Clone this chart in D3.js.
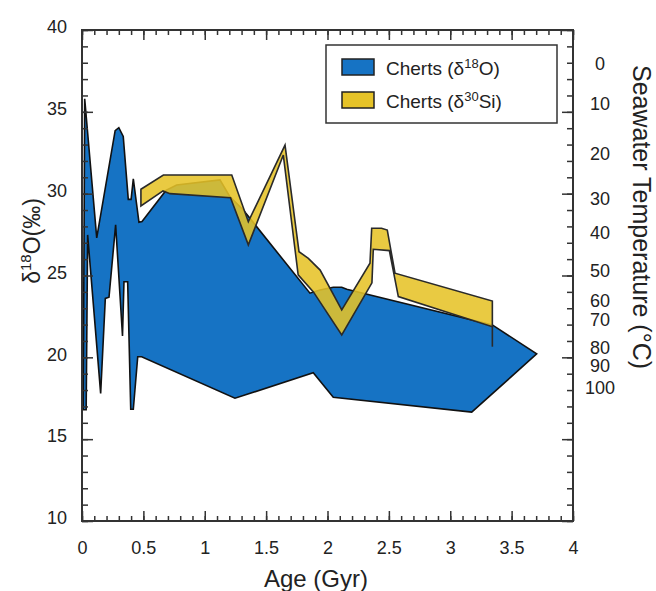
<!DOCTYPE html>
<html>
<head>
<meta charset="utf-8">
<script src="https://cdn.jsdelivr.net/npm/d3@7"></script>
<style>
  body { margin: 0; background: #fff; }
  svg { font-family: Arial, "Liberation Sans", Helvetica, sans-serif; }
</style>
</head>
<body>
<svg id="chart" width="656" height="591"></svg>
<script>
// axes
const ageTicks = [0, 0.5, 1, 1.5, 2, 2.5, 3, 3.5, 4];
const ageTickLabels = ["0", "0.5", "1", "1.5", "2", "2.5", "3", "3.5", "4"];
const d18oTicks = [10, 15, 20, 25, 30, 35, 40];
// seawater temperature labels and the d18O value they sit at
const tempLabels = ["0", "10", "20", "30", "40", "50", "60", "70", "80", "90", "100"];
const tempAtD18O = [37.96, 35.48, 32.43, 29.68, 27.6, 25.3, 23.5, 22.28, 20.6, 19.5, 18.15];

// cherts d18O envelope: upper edge (young -> old), then lower edge (old -> young)
const chertsOUpper = [
  [0.010, 16.8], [0.022, 35.8], [0.12, 27.3], [0.27, 33.85], [0.30, 34.03], [0.336, 33.5],
  [0.377, 29.65], [0.40, 29.65], [0.418, 30.9], [0.464, 28.25], [0.489, 28.3], [0.684, 30.2],
  [0.771, 30.53], [1.124, 30.84], [1.206, 29.8], [1.314, 29.0], [1.857, 23.92], [1.939, 24.12],
  [2.047, 24.28], [2.116, 24.28], [2.157, 24.16], [3.343, 21.98], [3.704, 20.21]
];
const chertsOLower = [
  [3.175, 16.65], [2.047, 17.56], [1.884, 19.06], [1.246, 17.5], [0.486, 20.04], [0.454, 20.04],
  [0.418, 16.83], [0.397, 16.83], [0.372, 24.62], [0.342, 24.62], [0.33, 21.3], [0.274, 28.1],
  [0.22, 23.67], [0.19, 23.6], [0.152, 17.8], [0.046, 27.48], [0.034, 16.8]
];

// cherts d30Si band
const chertsSiUpper = [
  [0.48, 30.27], [0.663, 31.14], [1.22, 31.14], [1.355, 28.29], [1.654, 32.97], [1.768, 26.45],
  [1.844, 26.05], [1.94, 25.33], [2.116, 22.9], [2.346, 25.75], [2.36, 27.89], [2.44, 27.89],
  [2.487, 27.78], [2.55, 25.14], [3.343, 23.44]
];
const chertsSiLower = [
  [3.343, 21.87], [2.577, 23.71], [2.504, 26.52], [2.373, 26.6], [2.362, 24.55], [2.116, 21.37],
  [1.885, 24.0], [1.761, 25.04], [1.64, 32.36], [1.355, 26.87], [1.21, 29.75], [0.717, 30.0],
  [0.66, 30.17], [0.48, 29.25]
];
const chertsSiWhisker = [[3.343, 21.87], [3.343, 20.65]];

const blue = "#1673c4";
const yellow = "#e6c328";

const svg = d3.select("#chart");
const mLeft = 82, mRight = 573, mTop = 30, mBottom = 521;

const x = d3.scaleLinear().domain([0, 4]).range([mLeft, mRight]);
const y = d3.scaleLinear().domain([10, 40]).range([mBottom, mTop]);

const line = d3.line().x(d => x(d[0])).y(d => y(d[1]));

// polygons
svg.append("path")
  .attr("d", line(chertsOUpper.concat(chertsOLower)) + "Z")
  .attr("fill", blue)
  .attr("stroke", "#111")
  .attr("stroke-width", 1.6)
  .attr("stroke-linejoin", "miter");

svg.append("path")
  .attr("d", line(chertsSiUpper.concat(chertsSiLower)) + "Z")
  .attr("fill", yellow)
  .attr("fill-opacity", 0.88)
  .attr("stroke", "#2a2a2a")
  .attr("stroke-width", 1.6);

svg.append("path")
  .attr("d", line(chertsSiWhisker))
  .attr("stroke", "#2a2a2a")
  .attr("stroke-width", 1.6);

// axes, ticks point inward
function styleAxis(g) {
  g.select(".domain").remove();
  g.selectAll(".tick line").attr("stroke", "#333").attr("stroke-width", 1.5);
  g.selectAll("text").attr("fill", "#222").style("font-size", "18px");
}

const minorAge = d3.range(0, 41).map(i => i / 10);
const minorD = d3.range(10, 41);

svg.append("g").attr("transform", `translate(0,${mBottom})`)
  .call(d3.axisBottom(x).tickValues(minorAge).tickSize(-5).tickFormat(""))
  .call(styleAxis);
svg.append("g").attr("transform", `translate(0,${mBottom})`)
  .call(d3.axisBottom(x).tickValues(ageTicks).tickSize(-10).tickPadding(20)
    .tickFormat((d, i) => ageTickLabels[i]))
  .call(styleAxis);

svg.append("g").attr("transform", `translate(0,${mTop})`)
  .call(d3.axisTop(x).tickValues(minorAge).tickSize(-5).tickFormat(""))
  .call(styleAxis);
svg.append("g").attr("transform", `translate(0,${mTop})`)
  .call(d3.axisTop(x).tickValues(ageTicks).tickSize(-10).tickFormat(""))
  .call(styleAxis);

svg.append("g").attr("transform", `translate(${mLeft},0)`)
  .call(d3.axisLeft(y).tickValues(minorD).tickSize(-6).tickFormat(""))
  .call(styleAxis);
const leftAx = svg.append("g").attr("transform", `translate(${mLeft},0)`)
  .call(d3.axisLeft(y).tickValues(d18oTicks).tickSize(-11).tickPadding(15))
  .call(styleAxis);
leftAx.selectAll("text").attr("y", -3);

svg.append("g").attr("transform", `translate(${mRight},0)`)
  .call(d3.axisRight(y).tickValues(minorD).tickSize(-6).tickFormat(""))
  .call(styleAxis);
svg.append("g").attr("transform", `translate(${mRight},0)`)
  .call(d3.axisRight(y).tickValues(d18oTicks).tickSize(-11).tickFormat(""))
  .call(styleAxis);

// frame
svg.append("rect")
  .attr("x", mLeft).attr("y", mTop)
  .attr("width", mRight - mLeft).attr("height", mBottom - mTop)
  .attr("fill", "none").attr("stroke", "#333").attr("stroke-width", 2);

// temperature labels on the right
svg.append("g").selectAll("text")
  .data(tempLabels)
  .join("text")
  .attr("x", 600)
  .attr("y", (d, i) => y(tempAtD18O[i]))
  .attr("dy", "0.36em")
  .attr("text-anchor", "middle")
  .attr("fill", "#222")
  .style("font-size", "18px")
  .text(d => d);

// axis titles
svg.append("text")
  .attr("x", 316).attr("y", 587)
  .attr("text-anchor", "middle")
  .attr("fill", "#222")
  .style("font-size", "24px")
  .text("Age (Gyr)");

const yTitle = svg.append("text")
  .attr("transform", "translate(40,241) rotate(-90)")
  .attr("text-anchor", "middle")
  .attr("fill", "#222")
  .style("font-size", "23px");
yTitle.append("tspan").text("\u03b4");
yTitle.append("tspan").attr("dy", -9).style("font-size", "15px").text("18");
yTitle.append("tspan").attr("dy", 9).text("O(\u2030)");

svg.append("text")
  .attr("transform", "translate(633,217) rotate(90)")
  .attr("text-anchor", "middle")
  .attr("fill", "#222")
  .style("font-size", "25px")
  .text("Seawater Temperature (\u00b0C)");

// legend
const legend = svg.append("g");
legend.append("rect")
  .attr("x", 326).attr("y", 45).attr("width", 231).attr("height", 78)
  .attr("fill", "#fff").attr("stroke", "#333").attr("stroke-width", 1.5);

const legendItems = [
  { fill: blue, sup: "18", tail: "O)", y: 59 },
  { fill: yellow, sup: "30", tail: "Si)", y: 92 }
];
legendItems.forEach(it => {
  legend.append("rect")
    .attr("x", 342).attr("y", it.y).attr("width", 32).attr("height", 16)
    .attr("fill", it.fill).attr("stroke", "#222").attr("stroke-width", 1.5);
  const t = legend.append("text")
    .attr("x", 386).attr("y", it.y + 16)
    .attr("fill", "#222")
    .style("font-size", "19px");
  t.append("tspan").text("Cherts (\u03b4");
  t.append("tspan").attr("dy", -7).style("font-size", "13px").text(it.sup);
  t.append("tspan").attr("dy", 7).text(it.tail);
});
</script>
</body>
</html>
